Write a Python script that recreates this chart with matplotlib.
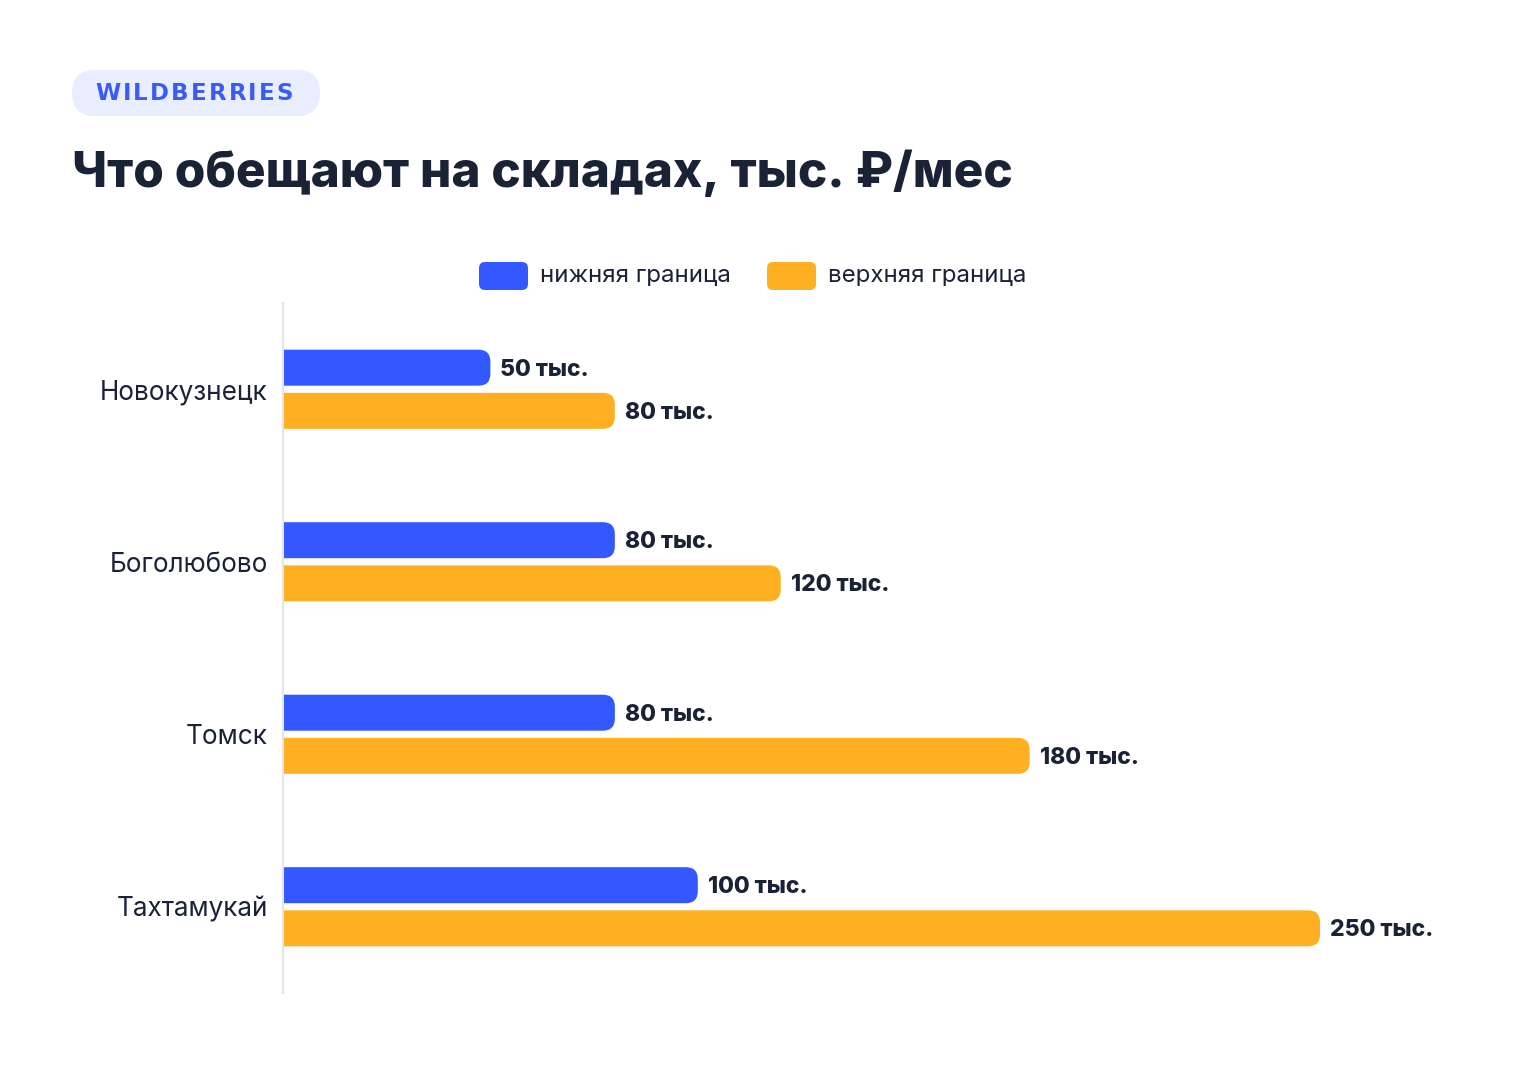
import matplotlib
matplotlib.use('Agg')
import matplotlib.pyplot as plt
from matplotlib.patches import FancyBboxPatch

plt.rcParams['font.family'] = ['Inter', 'DejaVu Sans']

# Данные
cities = ['Новокузнецк', 'Боголюбово', 'Томск', 'Тахтамукай']
lower = [50, 80, 80, 100]
upper = [80, 120, 180, 250]
series_names = ['нижняя граница', 'верхняя граница']
brand = 'WILDBERRIES'
title = 'Что обещают на складах, тыс. ₽/мес'

BLUE = '#3358FF'
ORANGE = '#FFAF22'
DARK = '#1A2236'

W, H = 1520, 1080
fig = plt.figure(figsize=(W / 100, H / 100), dpi=100)
renderer = fig.canvas.get_renderer()

# Плашка
badge = FancyBboxPatch((72 / W, 1 - 116 / H), 248 / W, 46 / H,
                       boxstyle='round,pad=0,rounding_size=0.0151',
                       mutation_aspect=W / H,
                       transform=fig.transFigure, facecolor='#E9EEFF',
                       edgecolor='none')
fig.patches.append(badge)

# буквы с разрядкой
x_px = 95
spacing = 2.2
for ch in brand:
    t = fig.text(x_px / W, 1 - 93 / H, ch, ha='left', va='center',
                 fontsize=16.5, fontweight='bold', color='#3A5BF5',
                 family='DejaVu Sans')
    x_px += t.get_window_extent(renderer).width + spacing

fig.text(72 / W, 1 - 173 / H, title,
         ha='left', va='center', fontsize=35.6, fontweight='heavy', color=DARK)

# Легенда
for x0, name, c in [(479, series_names[0], BLUE), (767, series_names[1], ORANGE)]:
    p = FancyBboxPatch((x0 / W, 1 - 290 / H), 49 / W, 28 / H,
                       boxstyle='round,pad=0,rounding_size=0.004',
                       mutation_aspect=W / H,
                       transform=fig.transFigure, facecolor=c, edgecolor='none')
    fig.patches.append(p)
    fig.text((x0 + 61) / W, 1 - 276 / H, name, ha='left', va='center',
             fontsize=17.3, color=DARK)

# Оси
ax_left, ax_right, ax_top, ax_bottom = 283, 1480, 303, 993
ax = fig.add_axes([ax_left / W, 1 - ax_bottom / H,
                   (ax_right - ax_left) / W, (ax_bottom - ax_top) / H])
px_per_unit = 1037 / 250
ax.set_xlim(0, (ax_right - ax_left) / px_per_unit)
ax.set_ylim(len(cities) - 0.5, -0.5)

y_px_per_unit = (ax_bottom - ax_top) / len(cities)
offset = 0.125
bar_h = 36 / y_px_per_unit
radius = 12 / px_per_unit
aspect = px_per_unit / y_px_per_unit

ypos = list(range(len(cities)))
bars_lo = ax.barh([y - offset for y in ypos], lower, height=bar_h, color='none')
bars_hi = ax.barh([y + offset for y in ypos], upper, height=bar_h, color='none')

for bars, c in [(bars_lo, BLUE), (bars_hi, ORANGE)]:
    for b in bars:
        x, y, w, h = b.get_x(), b.get_y(), b.get_width(), b.get_height()
        # левая часть уходит за ось и обрезается
        p = FancyBboxPatch((x - radius * 2, y), w + radius * 2, h,
                           boxstyle=f'round,pad=0,rounding_size={radius}',
                           mutation_aspect=aspect,
                           facecolor=c, edgecolor='none', zorder=2)
        ax.add_patch(p)
        ax.text(x + w + 10 / px_per_unit, y + h / 2 + 2 / y_px_per_unit,
                f'{w:.0f} тыс.', ha='left', va='center', fontsize=16.5,
                fontweight='heavy', color=DARK)

ax.set_yticks(ypos)
ax.set_yticklabels(cities, fontsize=18.8, color=DARK)
ax.tick_params(axis='y', length=0, pad=11)
ax.set_xticks([])
for s in ['top', 'right', 'bottom']:
    ax.spines[s].set_visible(False)
ax.spines['left'].set_color('#E2E4EA')
ax.spines['left'].set_linewidth(1.5)
ax.spines['left'].set_zorder(3)
ax.patch.set_alpha(0)

fig.savefig('out.png', dpi=100, facecolor='white')
